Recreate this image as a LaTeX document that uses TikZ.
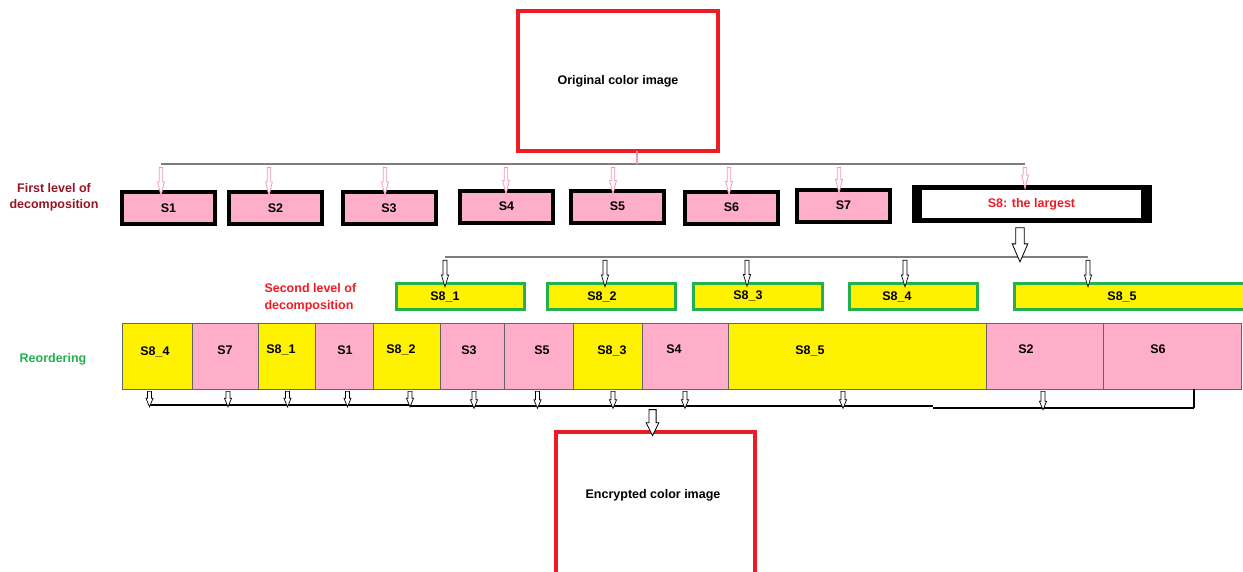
\documentclass[tikz,border=0pt]{standalone}
\usepackage{fontspec}
\setmainfont{Liberation Sans}
\usetikzlibrary{shapes.arrows,calc}
\definecolor{pinkfill}{RGB}{255,174,201}
\definecolor{boxyellow}{RGB}{255,242,0}
\definecolor{boxgreen}{RGB}{34,177,76}
\definecolor{imgred}{RGB}{237,28,36}
\definecolor{darkred}{RGB}{150,20,35}
\definecolor{cellgray}{RGB}{100,100,100}
\definecolor{linegray}{RGB}{125,125,125}
\definecolor{arrowpink}{RGB}{250,150,185}
\newcommand\harr[3][]{\path let \p1=(#2), \p2=(#3), \n1={veclen(\x2-\x1,\y2-\y1)} in node[hbase,#1,minimum height=\n1] at ($(\p1)!0.5!(\p2)$) {};}
\begin{document}
\begin{tikzpicture}[x=1pt,y=-1pt,
  every node/.style={font=\bfseries\fontsize{12.5}{16.5}\selectfont, inner sep=0pt, outer sep=0pt},
  fbox/.style={rectangle, draw=black, line width=4pt, fill=pinkfill, minimum width=93pt, minimum height=32pt},
  imgbox/.style={rectangle, draw=imgred, line width=4pt, fill=white},
  gbox/.style={rectangle, draw=boxgreen, line width=3pt, fill=boxyellow, minimum height=26pt},
  cellbase/.style={rectangle, draw=cellgray, line width=1pt, minimum height=66pt},
  pcell/.style={cellbase, fill=pinkfill},
  ycell/.style={cellbase, fill=boxyellow},
  grayline/.style={draw=linegray, line width=1.5pt},
  blackline/.style={draw=black, line width=2pt},
  hbase/.style={single arrow, draw, fill=white, shape border rotate=270, single arrow head indent=0pt, minimum width=0pt},
  parrow/.style={draw=arrowpink, line width=0.8pt, inner sep=1.4pt, single arrow head extend=1.6pt, single arrow tip angle=28},
  karrow/.style={draw=black, line width=0.7pt, inner sep=1.6pt, single arrow head extend=1.6pt, single arrow tip angle=34},
  barrow/.style={draw=black, line width=0.7pt, inner sep=1.6pt, single arrow head extend=1.6pt, single arrow tip angle=45},
  bigarrow/.style={draw=black, line width=0.8pt, inner sep=3.8pt, single arrow head extend=3.6pt, single arrow tip angle=47},
  encarrow/.style={draw=black, line width=0.8pt, inner sep=3.2pt, single arrow head extend=2.8pt, single arrow tip angle=53},
]
\path[use as bounding box, clip] (0,0) rectangle (1243,571);

% original image
\node[imgbox, minimum width=200pt, minimum height=140pt] (orig) at (618,81) {Original color image};

% first level
\node[text=darkred, align=center] (lvl1) at (54,197.5) {First level of\\decomposition};
\node[fbox] (s1) at (168.5,208) {S1};
\node[fbox] (s2) at (275.5,208) {S2};
\node[fbox] (s3) at (389,208) {S3};
\node[fbox] (s4) at (506.5,206.5) {S4};
\node[fbox] (s5) at (617.5,206.5) {S5};
\node[fbox] (s6) at (731.5,207.5) {S6};
\node[fbox] (s7) at (843.5,205.5) {S7};
\node[fill=black, minimum width=240pt, minimum height=38pt] (s8) at (1032,204) {};
\node[fill=white, text=imgred, minimum width=219pt, minimum height=28pt] (s8t) at (1031.5,204) {S8: the largest};

% top distribution line
\coordinate (ot) at (637,164);
\coordinate (p1) at (161,164);
\coordinate (p2) at (269,164);
\coordinate (p3) at (385,164);
\coordinate (p4) at (506,164);
\coordinate (p5) at (613,164);
\coordinate (p6) at (729,164);
\coordinate (p7) at (839,164);
\coordinate (p8) at (1025,164);
\draw[grayline] (p1) -- (p8);
\draw[arrowpink, line width=1.2pt] (ot |- orig.south) -- (ot);
\harr[parrow]{p1}{p1 |- s1.north}
\harr[parrow]{p2}{p2 |- s2.north}
\harr[parrow]{p3}{p3 |- s3.north}
\harr[parrow]{p4}{p4 |- s4.north}
\harr[parrow]{p5}{p5 |- s5.north}
\harr[parrow]{p6}{p6 |- s6.north}
\harr[parrow]{p7}{p7 |- s7.north}
\harr[parrow]{p8}{p8 |- s8.north}

% second level
\node[text=imgred, align=left, anchor=west] (lvl2) at (264.5,298) {Second level of\\decomposition};
\node[gbox, minimum width=128pt, label={[name=a1t, xshift=-15.5pt]center:S8\_1}] (a1) at (460.5,296.5) {};
\node[gbox, minimum width=128pt, label={[name=a2t, xshift=-9.5pt]center:S8\_2}] (a2) at (611.5,296.5) {};
\node[gbox, minimum width=129pt, label={[name=a3t, xshift=-10pt]center:S8\_3}] (a3) at (758,296) {};
\node[gbox, minimum width=128pt, label={[name=a4t, xshift=-16.5pt]center:S8\_4}] (a4) at (913.5,296.5) {};
\node[gbox, minimum width=245.5pt, label={[name=a5t, xshift=-15.25pt]center:S8\_5}] (a5) at (1137.25,296.5) {};

\coordinate (qa) at (1020,257);
\coordinate (q1) at (445,257);
\coordinate (q2) at (605,257);
\coordinate (q3) at (747,257);
\coordinate (q4) at (905,257);
\coordinate (q5) at (1088,257);
\draw[grayline] (q1) -- (q5);
\harr[bigarrow]{qa |- s8.south}{qa}
\harr[karrow]{q1}{q1 |- a1.north}
\harr[karrow]{q2}{q2 |- a2.north}
\harr[karrow]{q3}{q3 |- a3.north}
\harr[karrow]{q4}{q4 |- a4.north}
\harr[karrow]{q5}{q5 |- a5.north}

% reordering
\node[text=boxgreen] (reo) at (53,359) {Reordering};
\node[ycell, minimum width=70pt, label={[name=c1t, xshift=-2pt, yshift=4pt]center:S8\_4}] (c1) at (157,356) {};
\node[pcell, minimum width=66pt, label={[name=c2t, yshift=6pt]center:S7}] (c2) at (225,356) {};
\node[ycell, minimum width=57pt, label={[name=c3t, xshift=-5.5pt, yshift=6pt]center:S8\_1}] (c3) at (286.5,356) {};
\node[pcell, minimum width=58pt, label={[name=c4t, xshift=1pt, yshift=6pt]center:S1}] (c4) at (344,356) {};
\node[ycell, minimum width=67pt, label={[name=c5t, xshift=-5.5pt, yshift=6pt]center:S8\_2}] (c5) at (406.5,356) {};
\node[pcell, minimum width=64pt, label={[name=c6t, xshift=-3pt, yshift=6pt]center:S3}] (c6) at (472,356) {};
\node[pcell, minimum width=69pt, label={[name=c7t, xshift=3.5pt, yshift=6pt]center:S5}] (c7) at (538.5,356) {};
\node[ycell, minimum width=69pt, label={[name=c8t, xshift=4.5pt, yshift=5pt]center:S8\_3}] (c8) at (607.5,356) {};
\node[pcell, minimum width=86pt, label={[name=c9t, xshift=-11pt, yshift=7pt]center:S4}] (c9) at (685,356) {};
\node[ycell, minimum width=258pt, label={[name=c10t, xshift=-47pt, yshift=5pt]center:S8\_5}] (c10) at (857,356) {};
\node[pcell, minimum width=117pt, label={[name=c11t, xshift=-18.5pt, yshift=7pt]center:S2}] (c11) at (1044.5,356) {};
\node[pcell, minimum width=138pt, label={[name=c12t, xshift=-14pt, yshift=7pt]center:S6}] (c12) at (1172,356) {};

% collecting line
\coordinate (b1) at (149.5,404.5);
\coordinate (b2) at (228,404.5);
\coordinate (b3) at (287.5,404.5);
\coordinate (b4) at (347.5,404.5);
\coordinate (b5) at (410,404.5);
\coordinate (b6) at (474,406);
\coordinate (b7) at (537.5,406);
\coordinate (b8) at (613,406);
\coordinate (b9) at (685,406);
\coordinate (b10) at (843,406);
\coordinate (b11) at (1043,407.5);
\coordinate (k3) at (410,406);
\coordinate (k4) at (933,406);
\coordinate (k5) at (933,407.5);
\coordinate (k6) at (1194,407.5);
\draw[blackline] (b1) -- (b5);
\draw[blackline] (k3) -- (k4);
\draw[blackline] (k5) -- (k6);
\draw[draw=black, line width=1.5pt] (k6) -- (k6 |- c12.south);
\harr[barrow]{b1 |- c1.south}{b1}
\harr[barrow]{b2 |- c2.south}{b2}
\harr[barrow]{b3 |- c3.south}{b3}
\harr[barrow]{b4 |- c4.south}{b4}
\harr[barrow]{b5 |- c5.south}{b5}
\harr[barrow]{b6 |- c6.south}{b6}
\harr[barrow]{b7 |- c7.south}{b7}
\harr[barrow]{b8 |- c8.south}{b8}
\harr[barrow]{b9 |- c9.south}{b9}
\harr[barrow]{b10 |- c10.south}{b10}
\harr[barrow]{b11 |- c11.south}{b11}

% encrypted image
\node[imgbox, minimum width=199pt, minimum height=188pt] (enc) at (655.5,526) {};
\node (enct) at (653,495) {Encrypted color image};
\coordinate (ea) at (652.5,406);
\harr[encarrow]{ea}{ea |- enc.north}
\end{tikzpicture}
\end{document}
